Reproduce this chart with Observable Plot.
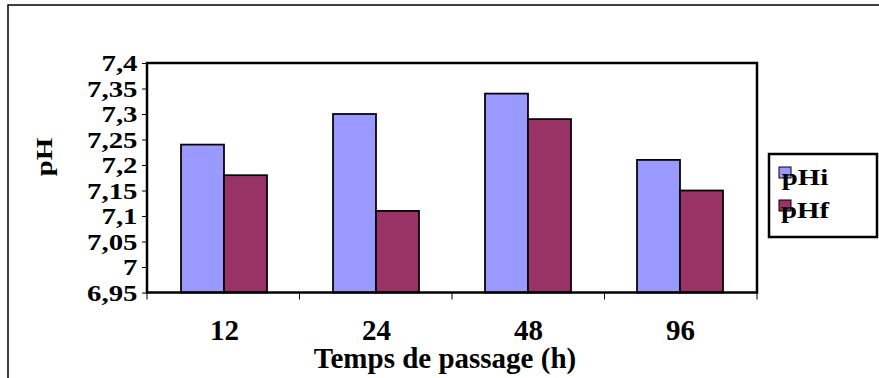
<!DOCTYPE html>
<html>
<head>
<meta charset="utf-8">
<script src="https://cdn.jsdelivr.net/npm/d3@7"></script>
<script src="https://cdn.jsdelivr.net/npm/@observablehq/plot@0.6"></script>
<style>
  html, body { margin: 0; padding: 0; background: white; }
  #chart { width: 879px; height: 378px; overflow: hidden; }
  #chart svg, #chart svg text {
    font-family: "Liberation Serif", "Times New Roman", Times, serif !important;
    font-weight: bold;
  }
</style>
</head>
<body>
<div id="chart"></div>
<script>
// ---- data ----
const categories = ["12", "24", "48", "96"];
const series = ["pHi", "pHf"];
const pHi = [7.24, 7.30, 7.34, 7.21];
const pHf = [7.18, 7.11, 7.29, 7.15];
const yTicks = [6.95, 7, 7.05, 7.1, 7.15, 7.2, 7.25, 7.3, 7.35, 7.4];
const colors = ["#9999FF", "#993366"];
const xTitle = "Temps de passage (h)";
const yTitle = "pH";

const data = categories.flatMap((c, i) => [
  {temps: c, serie: "pHi", value: pHi[i]},
  {temps: c, serie: "pHf", value: pHf[i]}
]);

const fmt = d => String(+d.toFixed(2)).replace(".", ",");

const plot = Plot.plot({
  width: 879,
  height: 378,
  marginLeft: 147,
  marginRight: 122,
  marginTop: 63,
  marginBottom: 85.5,
  style: {
    fontWeight: "bold",
    fontSize: "24px",
    color: "black",
    background: "white",
    overflow: "visible"
  },
  facet: {data, x: "temps"},
  fx: {domain: categories, paddingInner: 0, paddingOuter: 0, label: null, tickSize: 0, tickPadding: 26.5, axis: "bottom"},
  x: {domain: series, paddingInner: 0, paddingOuter: 0.733, axis: null},
  y: {domain: [yTicks[0], yTicks[yTicks.length - 1]], ticks: yTicks, tickFormat: fmt, tickSize: 6, tickPadding: 5, label: null},
  color: {domain: series, range: colors},
  marks: [
    Plot.barY(data, {x: "serie", y1: yTicks[0], y2: "value", fill: "serie", stroke: "black", strokeWidth: 1.75})
  ]
});

document.getElementById("chart").appendChild(plot);

const svg = d3.select(plot);
const fxS = plot.scale("fx");
const yS = plot.scale("y");
const [x0, x1] = fxS.range;
const [yb, yt] = yS.range;
const band = d3.scaleBand().domain(categories).range([x0, x1]);

// stretch y tick labels horizontally
plot.querySelectorAll('[aria-label^="y-axis"] text').forEach(t => {
  const L = t.getComputedTextLength();
  t.setAttribute("textLength", L * 1.2);
  t.setAttribute("lengthAdjust", "spacingAndGlyphs");
});
// larger category labels
plot.querySelectorAll('[aria-label^="fx-axis"] text').forEach(t => {
  t.style.fontSize = "29px";
});

// outer chart border (behind)
svg.insert("rect", ":first-child")
  .attr("x", 8).attr("y", 5).attr("width", 900).attr("height", 400)
  .attr("fill", "none").attr("stroke", "black").attr("stroke-width", 1.5);

// plot area frame
svg.append("rect")
  .attr("x", x0).attr("y", yt).attr("width", x1 - x0).attr("height", yb - yt)
  .attr("fill", "none").attr("stroke", "black").attr("stroke-width", 2.5);

// category separator ticks
const edges = categories.map(c => band(c)).concat([x1]);
svg.append("g").selectAll("line").data(edges).join("line")
  .attr("x1", d => d).attr("x2", d => d)
  .attr("y1", yb).attr("y2", yb + 7)
  .attr("stroke", "black").attr("stroke-width", 1);

// axis titles
svg.append("text")
  .attr("x", 445).attr("y", 367.5)
  .attr("text-anchor", "middle")
  .style("font-size", "29px")
  .text(xTitle);

const yt2 = svg.append("text")
  .attr("transform", "translate(52,157) rotate(-90)")
  .attr("text-anchor", "middle")
  .style("font-size", "24px")
  .text(yTitle);
yt2.attr("textLength", yt2.node().getComputedTextLength() * 1.2).attr("lengthAdjust", "spacingAndGlyphs");

// legend
const lg = svg.append("g");
lg.append("rect").attr("x", 769).attr("y", 154).attr("width", 108).attr("height", 83)
  .attr("fill", "white").attr("stroke", "black").attr("stroke-width", 2.5);
series.forEach((s, i) => {
  lg.append("rect").attr("x", 779).attr("y", 167 + i * 33).attr("width", 12).attr("height", 11)
    .attr("fill", colors[i]).attr("stroke", "black").attr("stroke-width", 1);
  const t = lg.append("text").attr("x", 805).attr("y", 185 + i * 33)
    .style("font-size", "24px").text(s);
  t.attr("textLength", t.node().getComputedTextLength() * 1.2).attr("lengthAdjust", "spacingAndGlyphs");
});
</script>
</body>
</html>
